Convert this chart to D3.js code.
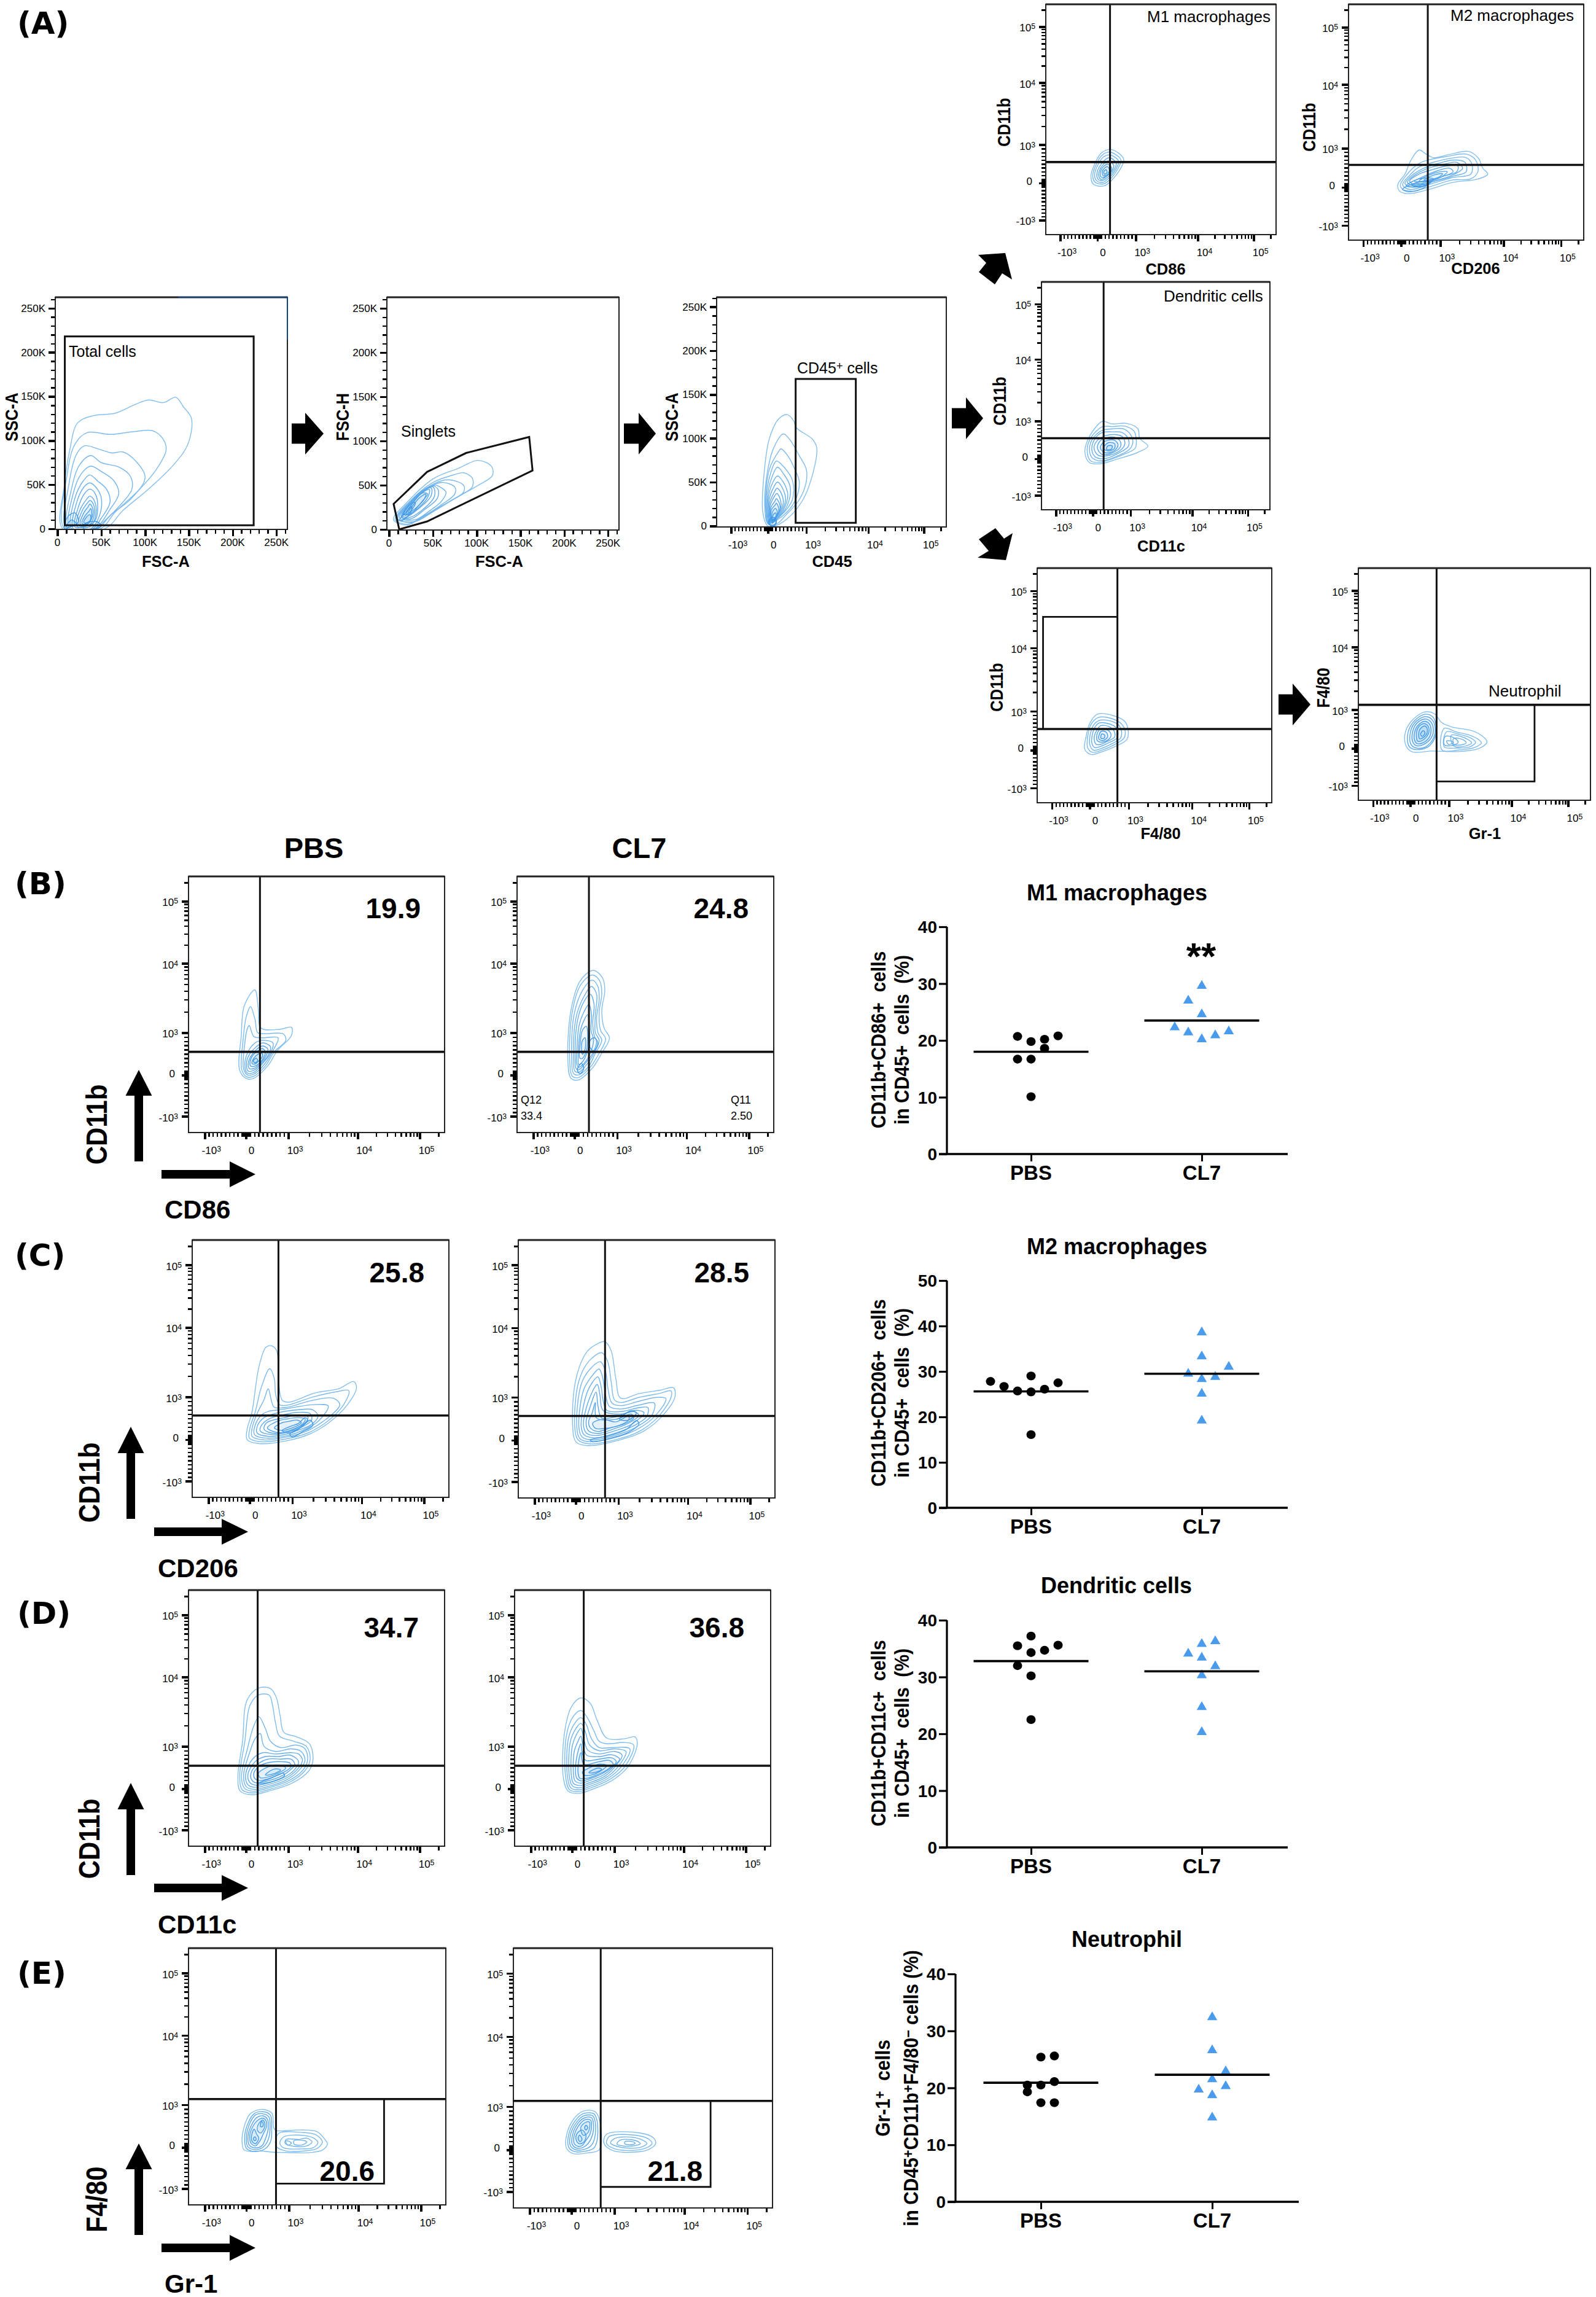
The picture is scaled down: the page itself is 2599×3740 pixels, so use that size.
<!DOCTYPE html>
<html><head><meta charset="utf-8">
<script src="https://cdn.jsdelivr.net/npm/d3@7/dist/d3.min.js"></script>
<style>
html,body{margin:0;padding:0;background:#fff}
svg{display:block}
text{white-space:pre}
</style></head><body><div id="c"></div>
<script>
/* ---------- DATA: dot plots; slots = horizontal jitter steps ---------- */
const groups=["PBS","CL7"];
const m1Pbs=[20.7,19.8,20.2,20.8,18.6,16.7,16.7,10.1], m1PbsSlots=[-1,0,1,2,1,-1,0,0];
const m1Cl7=[29.6,27,24.6,22.3,21.4,20.2,20.9,21.6], m1Cl7Slots=[0,-1,0,-2,-1,0,1,2];
const m2Pbs=[27.8,26.7,25.7,25.5,29,26.1,27.5,16.1], m2PbsSlots=[-3,-2,-1,0,0,1,2,0];
const m2Cl7=[38.6,33.3,31,29.5,28.8,28.3,25.1,19.2], m2Cl7Slots=[0,0,2,-1,1,0,0,0];
const dcPbs=[37.2,35.5,35.6,34.7,34.3,32,30.2,22.5], dcPbsSlots=[0,-1,2,1,0,-1,0,0];
const dcCl7=[36.3,35.8,34.1,33.4,31.9,30.3,24.7,20.3], dcCl7Slots=[1,0,-1,0,1,0,0,0];
const nePbs=[25.4,25.6,21.1,20.5,20.5,19.3,17.4,17.4], nePbsSlots=[0,1,1,0,-1,-1,0,1];
const neCl7=[32.4,26.6,22.9,21.5,20.3,19.7,18.7,14.8], neCl7Slots=[0,0,1,0,1,-1,0,0];
const medians={m1:[18,23.5],m2:[25.6,29.5],dc:[32.8,31],ne:[20.9,22.3]};
const ticks40=[0,10,20,30,40], ticks50=[0,10,20,30,40,50];

/* ---------- DATA: axis values ---------- */
const linMajor=[0,50,100,150,200,250];
const linMinor=[10,20,30,40,60,70,80,90,110,120,130,140,160,170,180,190,210,220,230,240,260];
const biexMajor=[-1000,0,1000,10000,100000];
const biexLabels=[["-10","3"],["0",""],["10","3"],["10","4"],["10","5"]];
const biexMinor=[-900,-800,-700,-600,-500,-400,-300,-200,-100,-90,-80,-70,-60,-50,-40,-30,-20,-10,10,20,30,40,50,60,70,80,90,100,200,300,400,500,600,700,800,900,2000,3000,4000,5000,6000,7000,8000,9000,20000,30000,40000,50000,60000,70000,80000,90000,200000];

/* ---------- DATA: contour lines.
   FSC/SSC values in thousands; fluorescence values in display channels 0-100 ---------- */
const ringsTotal=[
[[6,0],[8,50],[14,89],[23,120],[40,128],[66,131],[89,141],[104,146],[121,143],[135,149],[144,138],[153,125],[149,96],[133,73],[104,45],[75,21],[54,0]],
[[8,0],[11,61],[20,96],[34,109],[60,107],[86,110],[109,111],[121,101],[124,89],[112,66],[92,43],[66,19],[49,0]],
[[10,0],[13,50],[22,85],[31,94],[48,90],[62,86],[75,87],[90,76],[100,58],[85,35],[60,15],[46,0]],
[[12,0],[16,45],[25,72],[38,83],[50,75],[70,70],[83,60],[85,45],[70,25],[55,10],[43,0]],
[[14,0],[18,40],[27,62],[38,71],[50,65],[64,55],[70,40],[60,22],[42,0]],
[[16,0],[20,35],[30,55],[37,61],[46,54],[56,45],[60,30],[50,12],[40,0]],
[[18,0],[22,30],[30,47],[37,52],[44,47],[50,35],[48,15],[38,0]],
[[20,2],[24,25],[31,40],[37,45],[43,40],[46,25],[42,8]],
[[22,3],[26,22],[33,33],[37,37],[42,32],[44,18],[38,3]],
[[24,4],[28,20],[34,29],[37,32],[41,28],[42,16],[36,4]],
[[26,5],[30,18],[35,25],[37,28],[40,24],[40,14],[34,5]],
[[28,6],[31,14],[36,20],[38,23],[39,14],[35,6]],
[[30,7],[33,13],[37,16],[38,11],[34,7]],
[[8,0],[12,14],[20,18],[24,8],[14,2]],[[10,2],[16,10],[22,5]],[[30,0],[32,6],[45,8],[50,3],[42,0]]];
const ringsSinglets=[
[[5,11],[21,31],[50,57],[79,69],[102,78],[117,71],[118,61],[102,50],[68,31],[39,15],[21,5]],
[[7,11],[25,33],[50,53],[75,62],[85,64],[95,58],[95,48],[80,38],[60,26],[38,13],[20,6]],
[[9,12],[28,35],[52,52],[68,56],[85,50],[85,42],[70,32],[50,20],[30,9]],
[[10,12],[30,36],[52,51],[62,53],[75,48],[75,40],[60,28],[42,16],[25,8]],
[[12,13],[30,36],[52,50],[58,48],[65,42],[60,32],[45,20],[30,11]],
[[14,14],[32,38],[50,49],[56,45],[55,35],[40,22],[25,12]],
[[15,14],[33,40],[50,48],[52,38],[38,22],[22,13]],
[[16,15],[35,40],[48,47],[48,38],[32,22],[20,14]],
[[18,16],[36,40],[46,45],[44,36],[28,20]],
[[20,17],[38,41],[44,40],[38,32],[24,17]],
[[22,19],[35,36],[42,40],[40,34],[28,22]],
[[16,17],[26,30],[30,30],[22,18]],
[[12,11],[20,20],[26,26],[24,18],[14,10]]];
const ringsCd45=[
[[22.2,0],[20.1,16],[20.6,58],[23,100],[27,122],[30.8,127],[33.5,120],[34.7,112],[41.7,99],[43.6,89],[41.7,58],[37.6,30],[31.1,9],[25.4,0]],
[[22.4,2],[21,20],[22,60],[25,90],[29,105],[32,98],[36,80],[39,65],[39,50],[36,30],[30,12],[26,2]],
[[22.6,3],[21.3,25],[23,65],[27,85],[28,88],[31,80],[34,65],[36,50],[34,28],[29,12]],
[[22.8,3],[21.6,30],[23.5,60],[26,74],[29,68],[33,52],[33,30],[28,12]],
[[23,4],[22,30],[24,55],[26.5,67],[29,60],[32,45],[31,25],[27,10]],
[[23.2,4],[22.3,28],[24.5,50],[26.5,57],[29,50],[31,35],[29,18],[26,8]],
[[23.4,5],[22.6,26],[25,45],[26.5,50],[28.5,44],[30,30],[27,12]],
[[23.6,5],[22.9,24],[25,38],[26.3,43],[28,38],[29,26],[26,10]],
[[23.8,6],[23.2,22],[25,33],[26.2,37],[27.5,32],[28,22],[25.5,10]],
[[24,6],[23.5,20],[25.3,28],[26,31],[27.3,26],[27.5,18],[25,8]],
[[24.2,6],[23.8,18],[25.5,24],[26,26],[27,20],[26.5,12]],
[[24.3,6],[24.2,15],[25.6,20],[26.4,16],[25.5,8]],
[[24.3,3],[24.5,12],[25.7,15],[25.8,9]],
[[23.5,0],[23,5],[24.5,8],[26,4],[25,0]],
[[22.5,3],[24,10],[26,7],[25,1]]];
const ringsM1=[
[[28.6,36.9],[33.8,32.9],[32.6,28.9],[27.7,22.7],[25.1,21.1],[20.8,21.8],[19.6,25.3],[21.7,31.6],[24.3,35.6]],
[[28,35.8],[32.6,32.5],[31.5,29],[27.4,23.5],[25,22],[21.5,22.7],[20.4,25.5],[22.3,31.3],[24.8,34.8]],
[[27.8,34.6],[31.6,32],[30.5,28.5],[26.8,24],[24.5,22.6],[22,23.5],[21.2,26],[23,31],[25.2,33.8]],
[[27.5,33.4],[30.6,31],[29.5,28],[26.4,24.5],[24,23.4],[22.5,24.4],[22.2,26.5],[24,30.5]],
[[27.2,32],[29.5,30],[28.6,27.5],[26,25],[24,24],[23,25.5],[23.2,27.5],[25,30.5]],
[[27,30.5],[28.6,28.8],[27.6,26.5],[25.5,25],[24,25],[23.7,27],[25,29.5]],
[[26.8,29.5],[27.6,28],[26.6,26],[25,25.6],[24.5,27.2],[25.4,28.8]],
[[26.2,28.2],[26.6,27],[25.5,26.2],[25.2,27.3]]];
const ringsM2=[
[[21,23.7],[24,28],[26.6,34],[30,38.2],[32.7,36.7],[36,35],[42.7,36.3],[51.2,37.6],[55.4,34.5],[57,30.6],[59.2,28],[54.6,25.8],[44.4,24.5],[34.2,21.5],[25,19.7],[21.5,21]],
[[22,23],[25,28],[30,32.5],[34,34],[42,35.5],[50,36.5],[54,34],[55,29],[52,26],[44,25.5],[34,22.5],[25,20.5]],
[[23,23.5],[26,27.5],[30,31],[36,33],[44,34.8],[50,35],[52.5,32],[52,28],[44,26.5],[34,23.5],[26,21.5]],
[[24,24],[27,27.5],[32,30.5],[38,32.5],[45,34],[49.5,33],[50,29],[44,27],[35,24.5],[27,22.5]],
[[25,24.5],[28,27.5],[34,30.5],[40,32],[46,33],[48.5,30.5],[44,27.5],[36,25],[28,23]],
[[26,25],[30,28],[36,30],[42,31.5],[46.5,31.5],[46,29],[40,27],[33,24.5],[28,23.5]],
[[28,25],[33,27.5],[38,29.5],[43,30.5],[44.5,29],[40,27],[33,25]],
[[30,25],[34,27.5],[39,29],[42,29],[39,26.5],[34,25]],
[[32,25.5],[36,27.5],[40,28.2],[38,26.5]],
[[23,21.5],[28,24],[33,23],[28,20.8]],[[24.5,23],[30,26],[36,26],[32,23]],[[27,23.5],[32,25],[35,24.5],[30,22.5]]];
const ringsDc=[
[[26.7,38.8],[30.8,37.7],[37.3,37.9],[42.2,35.5],[43,31.4],[46.6,27.9],[42.2,25.2],[32.4,22],[25.9,20.2],[21,20.7],[19,25.2],[20.2,30.5],[23.5,35.9]],
[[26.8,36.5],[31,36.5],[36.5,36.7],[40.5,34.5],[41.5,30.5],[41,27],[36,24.3],[30,22],[25.5,20.8],[21.5,21.5],[20,25.5],[21,30.5],[24,34.5]],
[[27,35],[31,35.5],[36,35.5],[39,33],[40,29.5],[38.5,26.5],[33,23.5],[27,21.5],[22.5,22.5],[21,26],[22,30.5],[24.5,33.5]],
[[27,34],[31,34.2],[35.5,33.8],[38,31],[38,27.8],[34,25],[28,22.5],[23.5,23.2],[22,26.5],[23,30.5],[25,33]],
[[28,32.5],[32,33],[35.5,32],[36.5,29],[35,26.5],[30,24],[25,23.8],[23,27],[24.5,30.5]],
[[28,31.5],[32,31.8],[34.5,30],[34.5,27.5],[31,25],[26.5,24.3],[24.5,27],[25.5,30]],
[[29,30.5],[32,30.5],[33.5,28.5],[32,26],[28,25],[25.8,27],[27,29.5]],
[[29.5,29.5],[32,29],[32,27],[29.5,25.8],[27.2,26.8],[28,28.5]],
[[29,28],[31,28],[30.5,26.5],[28.5,26.5]]];
const ringsF480=[
[[25.8,37.8],[32.5,37.1],[37.5,34.5],[38.8,30.6],[38.3,27],[33.3,24],[26.7,21.4],[23,20.5],[20.3,22.7],[20.8,28],[22.5,34]],
[[26,36.3],[32,35.8],[36,33.5],[37.5,30.5],[37,27.5],[33,24.8],[27,22.2],[23.5,21.5],[21.5,23.5],[21.5,28],[23,33.5]],
[[26.3,35],[31.5,34.8],[35,32.8],[36,30],[35.5,27.5],[32,25.2],[27,23],[24,22.4],[22.5,24.5],[22.5,28.5],[24,33]],
[[26.5,34],[31,33.5],[33.8,31.8],[34.5,29.5],[34,27.5],[31,25.8],[27,24],[24.5,23.5],[23.3,25.5],[23.5,29],[24.8,32.5]],
[[27,32.8],[30.5,32.5],[32.8,30.5],[33,28],[30,26.2],[26.8,24.8],[25,25],[24.3,28],[25.5,31]],
[[27.2,31.5],[30,31],[31.5,29],[30.5,27],[27.5,25.8],[25.6,26.5],[25.6,29.5]],
[[27.4,30.5],[29.5,30],[30,28],[28,26.5],[26.3,27.2],[26.5,29.2]],
[[27.5,29.3],[28.8,28.8],[28.5,27.5],[27.2,27.5]]];
const ringsGr1=[
[[28.5,38],[32.7,37.3],[36,33.4],[40.2,31.6],[49.5,29.8],[54.5,26.7],[55.4,25],[52,22.3],[43.6,21],[31.8,21.2],[23.4,20.8],[20.9,22.8],[20,28],[22.6,33.8]],
[[37,31],[42,29.5],[48,28],[52,26],[53,24.7],[50,22.7],[44,21.7],[36,21.7]],
[[38,29.5],[43,28.5],[48,27],[50.5,25],[48,23],[42,22.5],[37,23]],
[[40,28],[44,27.5],[47.5,26],[48.8,24.7],[46,23.3],[41,23.5]],
[[41,26.5],[44,26.5],[46,25.5],[46.5,24.7],[44,23.8],[41,24.2]],
[[38,25.5],[40,25.5],[41,25],[39,24]],
[[37.5,27.5],[41,27],[43,25],[40,23.5],[37,24]],
[[28.5,37],[32,36],[33.5,32],[33,27],[30,23],[25,21.8],[22,23],[21.2,28],[23.5,33.5]],
[[28.5,36],[31.5,35],[33,32],[32.5,27],[29,23],[25,22.5],[22.7,24],[22.2,28],[24,33]],
[[28.5,35],[31,34],[32.3,31],[31.5,27],[28,24],[25,23.5],[23.5,25],[23.2,28.5],[25,33]],
[[28.5,34],[30.5,33],[31.3,30.5],[30.5,27],[27.5,24.6],[25.2,24.5],[24.2,26],[24.2,29],[25.5,32]],
[[28.5,33],[30,32],[30.5,30],[29.5,27.5],[27,25.5],[25.5,25.5],[25,27.5],[25.2,30],[26.3,32]],
[[28.5,32],[29.6,31],[29.6,29],[28,27],[26.4,26.5],[26,28],[26.5,30.5]],
[[28,30],[28.7,29],[27.5,27.5],[26.8,28.5]]];
const ringsBPbs=[
[[25.9,55.7],[27.3,47.7],[28.3,40.8],[35.6,40.3],[40.2,41.1],[40.2,37.9],[34.7,32],[31,26.1],[25.5,21.2],[22.8,21],[20,24.2],[20.6,37.9],[21.8,49.6]],
[[24.2,49.1],[26,44],[27,39],[30,38.6],[37,38.5],[38,36],[33.5,31.5],[30,26],[25.5,22],[22.8,21.7],[20.8,24.5],[21.3,36],[22.5,45]],
[[23.7,41.8],[25.5,37.5],[29,37],[35,37],[33,32],[29.5,26.5],[25.5,22.8],[23,22.5],[21.5,25],[22,35],[22.8,40]],
[[29,36],[33,35],[32,31],[29,27],[25.5,23.5],[23,23.2],[22,26],[23,31],[26,35]],
[[29,35],[32,33.5],[31,30],[28.5,27],[25.5,24.3],[23.3,24],[22.6,26.5],[23.5,30],[26.5,33.5]],
[[29,33.8],[31,32.5],[30,29.5],[28,27],[25.5,25],[23.7,25],[23.3,27],[24.5,30],[27,32.8]],
[[28.8,32.8],[30,31.5],[29.2,29],[27.5,27],[25.5,25.8],[24.2,26],[24,27.5],[25,30],[27.2,32]],
[[28.5,31],[29,30],[27.5,28],[26,26.8],[24.8,27],[25.5,29],[27,30.5]],
[[26.5,29],[27,28],[25.8,27.3],[25.3,28]]];
const ringsBCl7=[
[[29.7,63.3],[33.3,60.4],[34.2,55.5],[33,47.7],[33.9,40.8],[36,36.9],[33,31],[29.3,25.1],[23.8,20.5],[21,21.2],[19.8,28],[21,47.7],[24.7,59.4]],
[[29.5,61.5],[32.3,59],[33,54],[32,47],[32.5,40],[34.5,36.5],[32,31],[28.5,25.5],[24,21.5],[21.5,22],[20.5,28],[21.5,47],[25,58]],
[[29.3,59.5],[31.5,57],[32,52],[31,45],[31.5,39],[33,36],[30.5,31],[28,26],[24,22.5],[22,23],[21.3,28],[22.2,46],[25.5,55.5]],
[[29,57],[31,54],[30.5,46],[30.5,39],[32,36],[30,31],[27.5,27],[24,23.5],[22.5,24],[22,29],[23,45],[26,53]],
[[28.5,54],[30,50],[29.5,43],[30,38],[31,35.5],[29.5,31],[27,27.5],[24,24.5],[23,25],[22.6,30],[23.6,44],[26,51]],
[[28,50],[29,46],[28.8,40],[29.8,36],[28.5,31],[26.5,27.5],[24,25.5],[23.2,27],[23.3,32],[24.2,42],[26,47]],
[[27.5,46],[28,42],[28.3,37],[27.5,32],[25.8,28],[24,26.5],[23.8,29],[24,34],[25,41]],
[[27,41.5],[27.5,37],[27,32],[25.5,29],[24.5,29],[24.6,35],[25.5,40]],
[[26.5,37],[26.6,33],[25.5,30.5],[25.1,33],[25.5,36]],
[[30,37],[31.5,35],[30,32],[28.5,33],[28.5,36]],
[[23.5,24.5],[25,27],[26,25],[24.5,23]]];
const ringsCPbs=[
[[30.9,58.9],[32.9,57],[33.6,46.2],[35.1,37.7],[37.8,37],[47.9,40.6],[57,42.2],[62.9,45],[64,42.6],[60.7,36.3],[53.4,29.1],[46,24.7],[36.9,22],[26,20.9],[21.4,22.4],[21.4,26.5],[23.2,32.7],[26,50.7],[28.7,58.3]],
[[30.2,50],[32,46],[32.5,40],[34,36],[37,35.8],[47,39],[56,41],[61,41.5],[59,36],[52,29],[45,25],[37,22.8],[27,21.6],[22.3,23],[22.5,27],[24.5,33],[27,43]],
[[29.6,42.2],[31,37],[32,35],[37,35],[46,37.5],[55,38.5],[57.5,36],[51,29.5],[44,25.5],[37,23.5],[28,22.3],[23.3,23.7],[23.5,27.5],[25.5,33],[28,38]],
[[34,34],[40,35],[47,36],[53,35.5],[49,29.5],[43,26],[37,24],[29,23],[24.3,24.3],[24.5,28],[27,32],[30,33.5]],
[[34,33],[41,34],[47,34],[49,31.5],[46,28],[41,26],[36,24.4],[30,23.7],[25.3,25],[25.5,28],[28,31]],
[[35,32],[41,33],[46,32.5],[46.5,30],[43,27.5],[38,25.5],[31,24.4],[26.5,25.8],[27,28],[30,30.5]],
[[36,31],[41,32],[45,31.5],[44.5,29.5],[41,27],[36,25.2],[31,25],[28,26.5],[29,29]],
[[37,30.5],[41,31],[44,30.5],[43,28.5],[38,26],[33,25.2],[29.3,27],[33,29.5]],
[[37.5,29.5],[41,30],[42.5,29],[39,27],[35,26],[32,27],[35,29]],
[[35,26],[38,27.5],[41.5,28.8],[44,31],[45,30],[42,27],[38,25]],
[[38,24.5],[42,27],[46,30],[47,28],[43,25.5],[39,23.5]]];
const ringsCCl7=[
[[33.8,60.6],[36.2,57],[38,46.3],[39.9,38.7],[47.2,40.5],[55.4,41.8],[60.5,42.7],[61,39.1],[56.3,32],[49,26],[39.9,22.6],[27,20.3],[22.5,21.7],[21.2,27.5],[22.5,46.3],[27,57],[30.7,59.7]],
[[32.5,56.3],[34.8,53],[36.2,45],[37.5,38],[40,37],[47,39],[55,40.5],[59.5,41.5],[59.5,39],[55,32],[48,26.3],[39.5,23],[27.5,21],[23.3,22.5],[22,27.5],[23.5,45],[27.5,53]],
[[32,52.8],[34,49],[35,42],[36.5,36.8],[40,35.8],[47,37.5],[54,39],[57.5,38.5],[53.5,32],[47,27],[39,23.8],[28,21.8],[24,23],[22.8,27.5],[24.5,44],[28,50]],
[[31.5,50],[33,46],[34,40],[35.5,35.5],[40,34.5],[47,36],[53,36.8],[52,32],[46,27.5],[38.5,24.5],[29,22.5],[24.8,23.7],[23.6,27.5],[25.5,42],[28.5,47]],
[[31,47],[32.3,43],[33,38],[34.5,34],[40,33.5],[47,35],[50.5,35],[50,31.5],[45,28],[38,25.2],[30,23.3],[25.6,24.5],[24.5,28],[26.5,40],[29,45]],
[[30.8,44],[31.8,40],[33,34],[40,32.5],[46,34],[49,33],[44,28.5],[37.5,26],[30.5,24.2],[26.5,25.2],[25.4,28.5],[27.5,38]],
[[30.3,41],[31,36],[32.5,31],[38,31.5],[45,33.5],[47,32],[43,29],[37,26.7],[31,25],[27.4,26],[26.4,29],[28.2,36]],
[[30,37],[30.5,31],[38,30.5],[44,32.5],[45,31],[41.5,28.8],[36,27.2],[31,25.8],[28.2,27],[27.4,29.5],[28.8,33]],
[[38,29.5],[43,31.8],[43,30.3],[39,28],[34,27],[30,27],[29,29],[33,30.5]],
[[28,22.5],[35,24],[42,26.5],[46,30],[47,28.7],[43,25.5],[36,23.2],[29,21.8]],
[[39.5,30.5],[44,33.8],[46,33],[43,30.2]]];
const ringsDPbs=[
[[27.5,61.8],[32.1,61.5],[34.3,58],[35.8,50.8],[37.2,44.5],[42.2,42.7],[47.2,40],[48.6,33.7],[46.8,29.2],[40.4,24.6],[31.2,21.5],[24.8,20.1],[20.2,21.5],[19.3,27.3],[21.1,40.9],[22.9,57.1]],
[[27.3,59],[31.5,59],[32.8,55],[34,48],[35.5,43],[41,41],[46,39],[47.5,34],[45.5,29.5],[39.5,25],[31,22],[25,20.8],[21,22],[20,27.5],[22,41],[24,55]],
[[27.5,50.5],[30,46],[32,41],[36,38.5],[42,39.5],[45.5,38],[46.5,33.5],[44.5,29.5],[39,25.5],[31,22.7],[25.2,21.5],[21.8,22.7],[20.7,27.5],[23,38],[25.5,47]],
[[28,44],[29.5,39],[34,37],[40,38],[44,37],[45.5,33.5],[43.5,30],[38.5,26],[31,23.3],[25.5,22.2],[22.5,23.3],[21.5,27.7],[24,37],[26,42]],
[[29,36.5],[34,36],[40,36.5],[43,36],[44.5,33.5],[42.5,30],[38,26.5],[31,24],[26,23],[23.2,24],[22.3,28],[25,34]],
[[30,35],[35,35],[40,35.5],[43,33],[41.5,30],[37.5,27],[31,24.7],[26.5,23.8],[24,24.8],[23.2,28],[26,33]],
[[31,34],[36,34],[40,34],[41.5,32],[40,30],[36.5,27.5],[31,25.5],[27,24.7],[25,25.5],[24.3,28.2],[27,32]],
[[32,32.8],[36.5,33],[39.5,32.5],[40,31],[35.5,28],[31,26.3],[27.5,25.7],[26,26.3],[25.5,28.5],[28,31.5]],
[[33,31.5],[36,31.5],[38,30.5],[35,28.5],[31,27],[28,26.7],[27.3,28.5],[30,30.5]],
[[32,29.5],[34,30.2],[36,29.8],[33,28.2],[30,27.8]],
[[27,24.5],[32,26.5],[37,28.5],[37.5,27.5],[32,25]]];
const ringsDCl7=[
[[25.9,57.9],[29.5,55.8],[32.3,49],[36,42.2],[43.3,42],[47,42.7],[47.9,40],[44.2,31],[37.8,25.5],[29.5,21.9],[25,20.6],[20.9,21.5],[19.1,26.4],[19.4,43.6],[22.2,54.4]],
[[25.9,53],[28.5,50],[31,45],[33,41],[36,40],[43,40.5],[46.5,39.5],[43,31],[37,26],[29,22.5],[25,21.3],[21.5,22],[20,26.5],[20.2,43],[22.8,50.5]],
[[25.9,50.2],[28,47.5],[30,42],[33,38.5],[38,38.5],[45,38],[42,31.5],[36.5,26.5],[29,23.2],[25,22],[22,22.7],[20.7,26.7],[21,42],[23.5,48]],
[[25.9,48],[27.5,45],[29.3,39.5],[33,37.3],[39,38],[43.5,37],[41,31.8],[36,27],[29,24],[25.2,22.8],[22.6,23.5],[21.4,27],[21.8,41],[24,46]],
[[25.9,46],[27,42],[28.6,37.5],[33,36],[39,37],[42,35.5],[40,32],[35.5,27.5],[29,24.7],[25.5,23.7],[23,24.5],[22.2,27.3],[22.5,39],[24.4,44]],
[[25.9,43],[26.8,39],[28.2,35.5],[33,35],[38,35.7],[41,34],[39,31.5],[35,28],[29,25.5],[25.7,24.6],[23.6,25.5],[23,28],[23.3,37],[24.8,41]],
[[25.9,40],[26.5,36],[27.8,33.5],[33,34],[38,34.5],[39.7,33],[38,31],[34.5,28.5],[29,26.2],[26,25.5],[24.3,26.5],[23.8,28.5],[24.3,35]],
[[25.9,36.5],[27,32],[33,33],[37,33.5],[38.5,32],[36,29.8],[32,27.8],[28,26.5],[25.5,26.5],[24.8,28.5],[25,33]],
[[29,30.5],[33,32],[36,31.5],[33,29],[30,27.8],[27,27.8],[26.5,29]],
[[30,29.5],[33,30.5],[34,30],[31,28.7],[29,28.7]]];
const ringsEPbs=[
[[29,37.2],[32.4,35.7],[33.1,30],[34,29],[44,29.2],[50,28.5],[53,25.5],[54,23.7],[52,21.3],[46,20.3],[38,20.4],[33,20.5],[28,21],[24,20.8],[21.5,21.5],[20.8,24.5],[21.5,30],[24,35.5],[27,37]],
[[35,27.8],[44,28.2],[49.5,27.3],[52,24.5],[50,22],[45,21],[37,21.2],[34,23]],
[[37,26.5],[45,27],[49,25.8],[50.3,24.2],[48.5,22.3],[44,21.8],[37,22.2],[35.5,24]],
[[38,25.5],[43,25.5],[46,26],[48,24.5],[46,23],[41,22.8],[37.5,24]],
[[41,25],[45,25],[46,24.5],[44,23.3],[41,23.7]],
[[37.8,24.8],[39,24.8],[40,24],[38.5,23.3]],
[[28.8,36.3],[31.8,35],[32.3,30],[32,25],[30,22],[26,20.8],[22.5,22],[21.8,26],[22.8,31],[25.5,35.5]],
[[28.8,35.5],[31.2,34.3],[31.7,30],[31,25.5],[29,22.5],[26,21.5],[23,22.7],[22.5,26.5],[23.5,31],[26,35]],
[[28.8,34.7],[30.6,33.5],[31,30],[30,26],[28.5,23],[26,22.2],[23.6,23.3],[23.1,26.5],[24.2,30.5],[26.5,34]],
[[28.8,33.8],[30,33],[30.3,30.5],[29,27.5],[27.8,25],[26,23],[24.3,24],[23.8,27],[25,30.5],[27,33]],
[[28.8,33],[29.6,32],[29.5,30],[28,28],[26.8,29],[27.2,31.5]],
[[26.5,27.5],[27.3,26],[26,23.8],[24.7,24.8],[24.5,27],[25.5,29.5]],
[[25.8,26.5],[26.3,25.5],[25.7,25],[25.2,25.8]],
[[28.4,32.5],[29,31.8],[28.8,30.5],[28,30.5]]];
const ringsECl7=[
[[26.8,37.2],[31.3,37.2],[33.2,34.1],[33.2,22.5],[28.6,21.2],[23.2,20.9],[20.5,23],[20.5,27.9],[23.2,34.1]],
[[35.9,28.3],[48.6,28.9],[54,27],[54.9,24.8],[52.2,22.5],[46.7,21.5],[38.6,22],[35,24.8]],
[[37,27.5],[47,28],[52.5,26.3],[53.5,24.8],[51,23],[46.5,22.2],[39,22.8],[36,24.8]],
[[39,26.7],[46,27.2],[50.5,25.8],[51.5,24.8],[49.5,23.5],[45.5,23],[40,23.7],[37.5,25]],
[[41,26],[45.5,26.3],[48.5,25.3],[49,24.7],[47,24],[43,23.8],[40,24.5]],
[[43,25.5],[46,25.5],[47,24.8],[45,24.3],[43,24.7]],
[[27,36.3],[31,36.3],[32.3,33.5],[32.3,26],[31,23],[28,21.9],[23.5,21.7],[21.3,23.5],[21.3,28],[23.8,33.5]],
[[27.2,35.5],[30.6,35.5],[31.6,33],[31.4,27],[30,24],[27.5,22.6],[24,22.4],[22,24],[22,28],[24.4,33]],
[[27.5,34.7],[30.2,34.7],[30.9,32.5],[30.5,28],[29,25],[27,23.3],[24.5,23],[22.7,24.5],[22.8,28],[25,32.7]],
[[27.8,34],[29.8,33.8],[30.2,32],[29.6,28.5],[28,26],[26.5,24],[25,23.7],[23.4,25],[23.5,28],[25.6,32.2]],
[[28,33],[29.4,33],[29.5,31.5],[28.8,29],[27,28],[26,31]],
[[26.5,30],[28,28],[27.3,25.5],[25.5,24.7],[24.3,26],[24.5,28.5]],
[[25.5,28],[26.5,26.5],[25.8,25.5],[25,26.7]],
[[28,31.8],[28.7,31],[28,30],[27.5,30.8]]];

/* ---------- DATA: gates ---------- */
const gateTotal=[[8.4,4],[224,4],[224,218],[8.4,218]];
const gateSinglets=[[5.2,28.8],[43.4,65],[88,86.4],[160,104.5],[163.8,66.6],[43.4,9],[11.6,0]];
const gateCd45=[[34.4,3.5],[60.6,3.5],[60.6,167.8],[34.4,167.8]];
const gateF480=[[2.5,31.4],[2.5,79.2],[34.2,79.2]];

/* ---------- drawing ---------- */
const W=2599,H=3740;
const svg=d3.select("#c").append("svg").attr("width",W).attr("height",H).attr("viewBox",[0,0,W,H]);
const NARROW='"Liberation Sans Narrow","Liberation Sans",Arial,sans-serif';
const SANS='"Liberation Sans",Arial,sans-serif';
const WIDE='"DejaVu Sans",Verdana,sans-serif';
let clipId=0;

// display channel of a biexponential axis value
const lowPart=d3.scaleLinear().domain([-1000,0,1000]).range([6.3,22.4,39]);
const d3Part=d3.scaleLog().domain([1000,10000,100000,1000000]).range([39,66,90.3,114.6]);
const biexChannel=v=>v<=1000?lowPart(v):d3Part(v);

function addText(g,str,x,y,o={}){
  const t=g.append("text").attr("x",x).attr("y",y)
    .attr("font-family",o.family||SANS).attr("font-size",o.size||25)
    .attr("font-weight",o.weight||"normal").attr("fill",o.fill||"#000")
    .attr("text-anchor",o.anchor||"start");
  if(o.rotate){
    const s=o.stretch||1;
    t.attr("transform",`rotate(-90 ${x} ${y}) translate(${x} ${y}) scale(1 ${s}) translate(${-x} ${-y})`);
  }
  (Array.isArray(str)?str:[[str,0]]).forEach(([s,sup])=>{
    const ts=t.append("tspan").text(s);
    if(sup){ts.attr("baseline-shift",sup>0?"35%":"40%").attr("font-size",(o.size||25)*.72);}
  });
  return t;
}

function flowPlot(c){
  const [x0,x1,y0,y1]=c.frame;
  const g=svg.append("g");
  const sx=d3.scaleLinear().domain(c.xKind==="lin"?c.xDom:[0,100]).range([x0,x1]);
  const sy=d3.scaleLinear().domain(c.yKind==="lin"?c.yDom:[0,100]).range([y1,y0]);
  g.append("rect").attr("x",x0).attr("y",y0).attr("width",x1-x0).attr("height",y1-y0).attr("fill","#fff");

  // contours: no fill on the outer levels, a light build-up in the dense core
  const id="clip"+(++clipId);
  g.append("clipPath").attr("id",id).append("rect").attr("x",x0).attr("y",y0).attr("width",x1-x0).attr("height",y1-y0);
  const ln=d3.line().x(d=>sx(d[0])).y(d=>sy(d[1])).curve(d3.curveCatmullRomClosed.alpha(.5));
  const ringColor=d3.interpolateRgb("#84bfee","#3f97e8");
  const n=c.rings.length;
  g.append("g").attr("clip-path",`url(#${id})`).selectAll("path").data(c.rings).join("path")
    .attr("d",ln).attr("fill",(d,i)=>i>=n*.55?"#3f97e8":"none").attr("fill-opacity",.07)
    .attr("stroke",(d,i)=>ringColor(i/(n-1))).attr("stroke-width",1.4).attr("stroke-linejoin","round");

  // axes
  const axisStyle=(a,w)=>{a.select(".domain").remove();a.selectAll("line").attr("stroke","#000").attr("stroke-width",w).attr("shape-rendering","crispEdges");a.selectAll("text").remove();};
  const drawAxis=(kind,isX)=>{
    const sc=isX?sx:sy, mk=isX?d3.axisBottom:d3.axisLeft;
    const major=kind==="lin"?linMajor:biexMajor.map(biexChannel);
    const minor=kind==="lin"?linMinor:biexMinor.map(biexChannel);
    const base=isX?`translate(0,${y1})`:`translate(${x0},0)`;
    g.append("g").attr("transform",base).call(mk(sc).tickValues(minor).tickSize(7)).call(a=>axisStyle(a,2.4));
    g.append("g").attr("transform",base).call(mk(sc).tickValues(major).tickSize(11)).call(a=>axisStyle(a,3.6));
    major.forEach((m,i)=>{
      if(kind==="lin"){
        const lab=linMajor[i]===0?"0":linMajor[i]+"K";
        if(isX) addText(g,lab,sc(m),y1+27,{family:NARROW,size:17,anchor:"middle"});
        else addText(g,lab,x0-16,sc(m)+6,{family:NARROW,size:17,anchor:"end"});
      }else{
        const [b,e]=biexLabels[i];
        if(isX){
          addText(g,e?[[b,0],[e,1]]:b,sc(m)+(e?11:9),y1+35,{family:NARROW,size:17,anchor:"middle"});
        }else{
          addText(g,e?[[b,0],[e,1]]:b,x0-(e?17:22),sc(m)+(e?8:3),{family:NARROW,size:17,anchor:"end"});
        }
      }
    });
  };
  drawAxis(c.xKind,true); drawAxis(c.yKind,false);

  // gates
  const black=(sel,w)=>sel.attr("stroke","#111").attr("stroke-width",w).attr("fill","none");
  if(c.quad){
    black(g.append("line").attr("x1",sx(c.quad[0])).attr("x2",sx(c.quad[0])).attr("y1",y0).attr("y2",y1),3);
    black(g.append("line").attr("x1",x0).attr("x2",x1).attr("y1",sy(c.quad[1])).attr("y2",sy(c.quad[1])),3.6);
  }
  (c.polys||[]).forEach(p=>black(g.append("path").attr("d",d3.line().x(d=>sx(d[0])).y(d=>sy(d[1])).curve(d3.curveLinearClosed)(p)),3));
  (c.paths||[]).forEach(p=>black(g.append("path").attr("d",d3.line().x(d=>sx(d[0])).y(d=>sy(d[1])).curve(d3.curveLinear)(p)),2.8));

  // frame
  g.append("rect").attr("x",x0).attr("y",y0).attr("width",x1-x0).attr("height",y1-y0).attr("fill","none").attr("stroke","#222").attr("stroke-width",2);
  g.append("line").attr("x1",x0).attr("x2",x1).attr("y1",y0).attr("y2",y0).attr("stroke","#222").attr("stroke-width",3);
  if(c.tint){
    g.append("path").attr("d",`M${sx(c.tint[0])},${y0}H${x1}V${sy(c.tint[1])}`).attr("fill","none").attr("stroke","#123f80").attr("stroke-width",2);
  }

  // labels
  if(c.xLabel) addText(svg,c.xLabel[0],c.xLabel[1],c.xLabel[2],{weight:"bold",size:c.xLabel[3]||25.5,anchor:c.xLabel[4]||"middle"});
  if(c.yLabel) addText(svg,c.yLabel[0],c.yLabel[1],c.yLabel[2],{weight:"bold",size:c.yLabel[3]||25.5,anchor:"middle",rotate:true,family:SANS,stretch:1.18});
  (c.notes||[]).forEach(n=>addText(svg,n[0],n[1],n[2],n[3]));
}

const big=v=>({weight:"bold",size:46,anchor:"end"});
const KK={xKind:"lin",yKind:"lin"};
const xK=[-2.5,262.5], yK=[-.7,262.4];

flowPlot({...KK,frame:[90,468,484,862],xDom:xK,yDom:yK,rings:ringsTotal,polys:[gateTotal],tint:[138,214],
  xLabel:["FSC-A",270,923],yLabel:["SSC-A",29,679],notes:[["Total cells",112,581,{size:25}]]});
flowPlot({...KK,frame:[630,1008,484,863],xDom:xK,yDom:yK,rings:ringsSinglets,polys:[gateSinglets],
  xLabel:["FSC-A",813,923],yLabel:["FSC-H",568,679],notes:[["Singlets",653,711,{size:25}]]});
flowPlot({xKind:"biex",yKind:"lin",frame:[1167,1541,484,858],yDom:[-1.2,261],rings:ringsCd45,polys:[gateCd45],
  xLabel:["CD45",1355,923],yLabel:["SSC-A",1104,679],notes:[[[["CD45",0],["+",1],[" cells",0]],1298,608,{size:25}]]});

const BB={xKind:"biex",yKind:"biex"};
flowPlot({...BB,frame:[1703,2078,7,382],rings:ringsM1,quad:[27.9,31.5],xLabel:["CD86",1898,447],yLabel:["CD11b",1645,199],
  notes:[["M1 macrophages",1868,36,{size:26}]]});
flowPlot({...BB,frame:[2196,2579,7,391],rings:ringsM2,quad:[33.7,31.9],xLabel:["CD206",2403,446],yLabel:["CD11b",2142,207],
  notes:[["M2 macrophages",2362,34,{size:26}]]});
flowPlot({...BB,frame:[1696,2068,459,830],rings:ringsDc,quad:[27.2,31.4],xLabel:["CD11c",1891,898],yLabel:["CD11b",1638,653],
  notes:[["Dendritic cells",1895,491,{size:26}]]});
flowPlot({...BB,frame:[1689,2071,925,1307],rings:ringsF480,quad:[34.2,31.4],paths:[gateF480],xLabel:["F4/80",1890,1366],yLabel:["CD11b",1633,1119]});
flowPlot({...BB,frame:[2212,2590,925,1303],rings:ringsGr1,quad:[33.7,41.1],paths:[[[75.9,41.1],[75.9,8.1],[33.7,8.1]]],
  xLabel:["Gr-1",2418,1366],yLabel:["F4/80",2165,1120],notes:[["Neutrophil",2424,1134,{size:26}]]});

const smallN={family:NARROW,size:18};
flowPlot({...BB,frame:[307,724,1427,1844],rings:ringsBPbs,quad:[27.9,31.5],notes:[["19.9",685,1495,big()]]});
flowPlot({...BB,frame:[842,1260,1427,1844],rings:ringsBCl7,quad:[28,31.5],notes:[["24.8",1219,1495,big()],
  ["Q12",848,1797,smallN],["33.4",848,1823,smallN],["Q11",1190,1797,smallN],["2.50",1190,1823,smallN]]});
flowPlot({...BB,frame:[313,731,2019,2438],rings:ringsCPbs,quad:[33.6,31.8],notes:[["25.8",691,2088,big()]]});
flowPlot({...BB,frame:[844,1262,2019,2439],rings:ringsCCl7,quad:[33.8,31.8],notes:[["28.5",1220,2088,big()]]});
flowPlot({...BB,frame:[307,724,2589,3006],rings:ringsDPbs,quad:[27,31.4],notes:[["34.7",682,2666,big()]]});
flowPlot({...BB,frame:[838,1255,2589,3006],rings:ringsDCl7,quad:[27,31.4],notes:[["36.8",1212,2666,big()]]});
flowPlot({...BB,frame:[307,726,3172,3590],rings:ringsEPbs,quad:[34,41.2],paths:[[[76,41.2],[76,8.3],[34,8.3]]],notes:[["20.6",610,3551,big()]]});
flowPlot({...BB,frame:[836,1258,3172,3595],rings:ringsECl7,quad:[33.7,41.2],paths:[[[76.1,41.2],[76.1,8.1],[33.7,8.1]]],notes:[["21.8",1144,3551,big()]]});

// block arrows
const poly=pts=>svg.append("polygon").attr("points",pts.map(p=>p.join(",")).join(" ")).attr("fill","#000");
const arrowR=(x0,xb,xt,yc,sh,hh)=>poly([[x0,yc-sh],[xb,yc-sh],[xb,yc-hh],[xt,yc],[xb,yc+hh],[xb,yc+sh],[x0,yc+sh]]);
const arrowU=(xc,yb,yh,yt,sh,hh)=>poly([[xc-sh,yb],[xc-sh,yh],[xc-hh,yh],[xc,yt],[xc+hh,yh],[xc+sh,yh],[xc+sh,yb]]);
arrowR(475,497,527,706,16.5,34);
arrowR(1016,1040,1068,706,16.5,34);
arrowR(1550,1573,1601,681,16.5,34);
arrowR(2082,2105,2134,1147,16.5,34);
poly([[1593,415],[1637,412],[1648,455],[1632,445],[1620,463],[1594,443],[1606,428]]);
poly([[1621,860],[1635,877],[1649,868],[1638,912],[1592,908],[1610,897],[1594,878]]);
arrowU(226,1891,1784,1742,7,21.5); arrowR(263,374,416,1912,7,21);
arrowU(213,2473,2366,2323,7,21.5); arrowR(251,361,404,2494,7,21);
arrowU(213,3053,2946,2903,7,21.5); arrowR(251,361,404,3074,7,21);
arrowU(226,3639,3532,3490,7,21.5); arrowR(263,374,416,3660,7,21);

// panel letters and big labels
[["(A)",28,55],["(B)",24,1456],["(C)",24,2061],["(D)",28,2644],["(E)",28,3230]].forEach(d=>
  addText(svg,d[0],d[1],d[2],{family:WIDE,weight:"bold",size:50}));
addText(svg,"PBS",511,1397,{weight:"bold",size:47,anchor:"middle"});
addText(svg,"CL7",1041,1397,{weight:"bold",size:47,anchor:"middle"});
const bigY=(s,x,y)=>addText(svg,s,x,y,{weight:"bold",size:42,anchor:"middle",rotate:true,stretch:1.15});
const bigX=(s,x,y)=>addText(svg,s,x,y,{weight:"bold",size:42});
bigY("CD11b",174,1831); bigX("CD86",268,1984);
bigY("CD11b",162,2414); bigX("CD206",257,2568);
bigY("CD11b",162,2994); bigX("CD11c",257,3148);
bigY("F4/80",174,3581); bigX("Gr-1",268,3733);

// dot plots
function dotPlot(c){
  const g=svg.append("g");
  const y=d3.scaleLinear().domain([0,c.yMax]).range([c.y0,c.yTop]);
  const x=d3.scalePoint().domain(groups).range(c.xs);
  const SLOT=22;
  const ax=g.append("g").attr("transform",`translate(${c.axisX},0)`).call(d3.axisLeft(y).tickValues(c.ticks).tickSize(13).tickFormat(""));
  ax.selectAll("line").attr("stroke","#000").attr("stroke-width",3.2);
  ax.select(".domain").attr("stroke","#000").attr("stroke-width",3.2).attr("d",`M0,${c.yTop}V${c.y0}`);
  c.ticks.forEach(t=>addText(g,String(t),c.axisX-16,y(t)+10,{weight:"bold",size:28,anchor:"end",family:NARROW}));
  const bx=g.append("g").attr("transform",`translate(0,${c.y0})`).call(d3.axisBottom(x).tickSize(12).tickFormat(""));
  bx.selectAll("line").attr("stroke","#000").attr("stroke-width",3);
  bx.select(".domain").remove();
  g.append("line").attr("x1",c.axisX-13).attr("x2",c.xEnd).attr("y1",c.y0).attr("y2",c.y0).attr("stroke","#000").attr("stroke-width",3.6);
  groups.forEach((n,i)=>addText(g,n,x(n),c.y0+42,{weight:"bold",size:33,anchor:"middle"}));

  g.selectAll("ellipse").data(c.a.map((v,i)=>[v,c.aS[i]])).join("ellipse")
    .attr("cx",d=>x("PBS")+d[1]*SLOT).attr("cy",d=>y(d[0])).attr("rx",7.5).attr("ry",7.2).attr("fill","#000");
  const tri=d3.symbol().type(d3.symbolTriangle).size(118);
  g.selectAll("path.tri").data(c.b.map((v,i)=>[v,c.bS[i]])).join("path").attr("class","tri")
    .attr("d",tri).attr("transform",d=>`translate(${x("CL7")+d[1]*SLOT},${y(d[0])})`).attr("fill","#4a9bec");
  c.med.forEach((m,i)=>{
    const cx=x(groups[i]);
    g.append("line").attr("x1",cx-93.5).attr("x2",cx+93.5).attr("y1",y(m)).attr("y2",y(m)).attr("stroke","#000").attr("stroke-width",3.6);
  });
  addText(g,c.title,c.titleX,c.titleY,{weight:"bold",size:36,anchor:"middle"});
  c.yTitle.forEach(l=>addText(g,l[0],l[1],l[2],{weight:"bold",size:l[3]||30,anchor:"middle",rotate:true,stretch:1.08}));
}
dotPlot({y0:1879,yTop:1509,yMax:40,ticks:ticks40,axisX:1542,xEnd:2097,xs:[1679,1957],a:m1Pbs,aS:m1PbsSlots,b:m1Cl7,bS:m1Cl7Slots,med:medians.m1,
  title:"M1 macrophages",titleX:1819,titleY:1466,yTitle:[["CD11b+CD86+  cells",1442,1693],["in CD45+  cells  (%)",1480,1693]]});
addText(svg,"**",1956,1578,{weight:"bold",size:62,anchor:"middle"});
dotPlot({y0:2455,yTop:2085,yMax:50,ticks:ticks50,axisX:1542,xEnd:2097,xs:[1679,1957],a:m2Pbs,aS:m2PbsSlots,b:m2Cl7,bS:m2Cl7Slots,med:medians.m2,
  title:"M2 macrophages",titleX:1819,titleY:2042,yTitle:[["CD11b+CD206+  cells",1442,2268],["in CD45+  cells  (%)",1480,2268]]});
dotPlot({y0:3008,yTop:2638,yMax:40,ticks:ticks40,axisX:1542,xEnd:2097,xs:[1679,1957],a:dcPbs,aS:dcPbsSlots,b:dcCl7,bS:dcCl7Slots,med:medians.dc,
  title:"Dendritic cells",titleX:1818,titleY:2594,yTitle:[["CD11b+CD11c+  cells",1442,2822],["in CD45+  cells  (%)",1480,2822]]});
dotPlot({y0:3585,yTop:3214,yMax:40,ticks:ticks40,axisX:1556,xEnd:2115,xs:[1695,1974],a:nePbs,aS:nePbsSlots,b:neCl7,bS:neCl7Slots,med:medians.ne,
  title:"Neutrophil",titleX:1835,titleY:3170,
  yTitle:[[[["Gr-1",0],["+",1],["  cells",0]],1449,3400],
          [[["in CD45",0],["+",1],["CD11b",0],["+",1],["F4/80",0],["−",1],[" cells (%)",0]],1495,3400]]});
</script></body></html>
